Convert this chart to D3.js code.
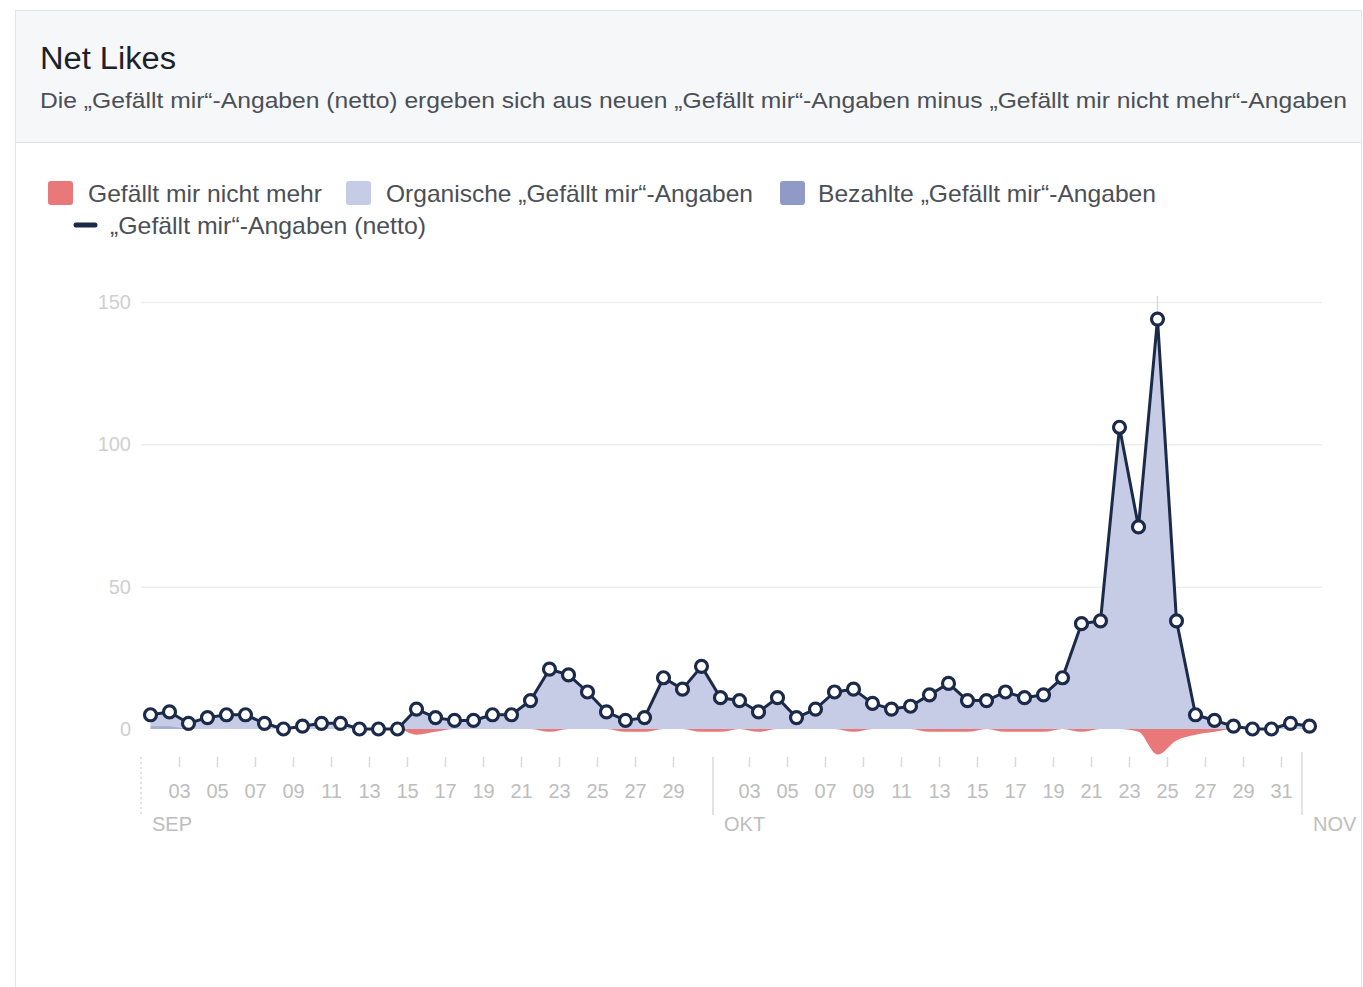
<!DOCTYPE html>
<html>
<head>
<meta charset="utf-8">
<script src="https://cdn.jsdelivr.net/npm/d3@7"></script>
<style>
  html, body { margin: 0; padding: 0; background: #ffffff; }
  svg { display: block; font-family: "Liberation Sans", Arial, Helvetica, sans-serif; }
</style>
</head>
<body>
<svg id="chart" width="1363" height="987"></svg>
<script>
// ---------------- DATA ----------------
const titleText = "Net Likes";
const subtitleText = "Die \u201EGefällt mir\u201C-Angaben (netto) ergeben sich aus neuen \u201EGefällt mir\u201C-Angaben minus \u201EGefällt mir nicht mehr\u201C-Angaben";
const seriesNames = [
  "Gefällt mir nicht mehr",
  "Organische \u201EGefällt mir\u201C-Angaben",
  "Bezahlte \u201EGefällt mir\u201C-Angaben",
  "\u201EGefällt mir\u201C-Angaben (netto)"
];
const firstDay = "2016-09-01";
const lastDay = "2016-11-01";
const monthLabels = ["SEP", "OKT", "NOV"];
const yTicks = [0, 50, 100, 150];

// Sep 1 .. Oct 31, Nov 1
const netLikes = [
  5, 6, 2, 4, 5, 5, 2, 0, 1, 2,
  2, 0, 0, 0, 7, 4, 3, 3, 5, 5,
  10, 21, 19, 13, 6, 3, 4, 18, 14, 22,
  11, 10, 6, 11, 4, 7, 13, 14, 9, 7,
  8, 12, 16, 10, 10, 13, 11, 12, 18, 37,
  38, 106, 71, 144, 38, 5, 3, 1, 0, 0,
  2, 1
];
const organicLikes = [
  5, 6, 2, 4, 5, 5, 2, 0, 1, 2,
  2, 0, 0, 0, 7, 4, 3, 3, 5, 5,
  10, 21, 19, 13, 6, 3, 4, 18, 14, 22,
  11, 10, 6, 11, 4, 7, 13, 14, 9, 7,
  8, 12, 16, 10, 10, 13, 11, 12, 18, 37,
  38, 106, 71, 144, 38, 5, 3, 1, 0, 0,
  2, 1
];
const paidLikes = [
  1, 1, 0, 0, 0, 0, 0, 0, 0, 0,
  0, 0, 0, 0, 0, 0, 0, 0, 0, 0,
  0, 0, 0, 0, 0, 0, 0, 0, 0, 0,
  0, 0, 0, 0, 0, 0, 0, 0, 0, 0,
  0, 0, 0, 0, 0, 0, 0, 0, 0, 0,
  0, 0, 0, 0, 0, 0, 0, 0, 0, 0,
  0, 0
];
const unlikes = [
  0, 0, 0, 0, 0, 0, 0, 0, 0, 0,
  0, 0, 0, 0, 2, 1, 0, 0, 0, 0,
  0, 1, 0, 0, 0, 1, 1, 0, 0, 1,
  1, 0, 1, 0, 0, 0, 0, 1, 0, 0,
  0, 1, 1, 1, 0, 1, 1, 1, 0, 1,
  0, 0, 1, 9, 4, 2, 1, 0, 0, 0,
  0, 0
];

// ---------------- COLORS ----------------
const C = {
  unlike: "#e8787a",
  organic: "#c6cce6",
  paid: "#8f9ac6",
  line: "#1c2a4a",
  text: "#4b4f56",
  title: "#1d2129",
  axis: "#bdbdbd",
  grid: "#eeeeee"
};

// ---------------- SETUP ----------------
const svg = d3.select("#chart");
const parse = d3.timeParse("%Y-%m-%d");
const d0 = parse(firstDay);
const days = d3.timeDay.range(d0, d3.timeDay.offset(parse(lastDay), 1));
const data = days.map((d, i) => ({
  date: d,
  mid: d3.timeHour.offset(d, 12),
  net: netLikes[i],
  organic: organicLikes[i],
  paid: paidLikes[i],
  unlike: unlikes[i]
}));

const x = d3.scaleTime()
  .domain([d0, d3.timeDay.offset(d0, 63)])
  .range([141, 1338]);
const y = d3.scaleLinear().domain([0, 150]).range([729, 302]);

// ---------------- CARD ----------------
svg.append("rect").attr("x", 15.5).attr("y", 10.5).attr("width", 1346).attr("height", 990)
  .attr("fill", "#ffffff").attr("stroke", "#e3e4e8");
svg.append("rect").attr("x", 16).attr("y", 11).attr("width", 1345).attr("height", 131)
  .attr("fill", "#f6f7f9");
svg.append("line").attr("x1", 16).attr("x2", 1361).attr("y1", 142.5).attr("y2", 142.5)
  .attr("stroke", "#dddfe2");

svg.append("text").attr("x", 40).attr("y", 69)
  .attr("font-size", 31).attr("fill", C.title)
  .attr("textLength", 136).attr("lengthAdjust", "spacingAndGlyphs")
  .text(titleText);
svg.append("text").attr("x", 40).attr("y", 108)
  .attr("font-size", 22).attr("fill", C.text)
  .attr("textLength", 1307).attr("lengthAdjust", "spacingAndGlyphs")
  .text(subtitleText);

// ---------------- LEGEND ----------------
const legendItems = [
  { name: seriesNames[0], color: C.unlike, sx: 48, tx: 88, tw: 234, y: 193 },
  { name: seriesNames[1], color: C.organic, sx: 346, tx: 386, tw: 367, y: 193 },
  { name: seriesNames[2], color: C.paid, sx: 780, tx: 818, tw: 338, y: 193 }
];
const lg = svg.append("g");
legendItems.forEach(it => {
  lg.append("rect").attr("x", it.sx).attr("y", it.y - 12).attr("width", 25).attr("height", 24)
    .attr("rx", 3).attr("fill", it.color);
  lg.append("text").attr("x", it.tx).attr("y", it.y + 9)
    .attr("font-size", 24).attr("fill", C.text)
    .attr("textLength", it.tw).attr("lengthAdjust", "spacingAndGlyphs")
    .text(it.name);
});
lg.append("line").attr("x1", 76).attr("x2", 95).attr("y1", 225).attr("y2", 225)
  .attr("stroke", C.line).attr("stroke-width", 5).attr("stroke-linecap", "round");
lg.append("text").attr("x", 110).attr("y", 234)
  .attr("font-size", 24).attr("fill", C.text)
  .attr("textLength", 316).attr("lengthAdjust", "spacingAndGlyphs")
  .text(seriesNames[3]);

// ---------------- GRID & Y AXIS ----------------
const gridEnd = x(d3.timeDay.offset(d0, 62)) + 3;
svg.append("g").selectAll("line").data(yTicks.filter(t => t > 0)).join("line")
  .attr("x1", 141).attr("x2", gridEnd)
  .attr("y1", d => y(d) + 0.5).attr("y2", d => y(d) + 0.5)
  .attr("stroke", C.grid).attr("stroke-width", 1.5);

svg.append("g").selectAll("text").data(yTicks).join("text")
  .attr("x", 131).attr("y", d => y(d))
  .attr("dy", "0.35em")
  .attr("text-anchor", "end")
  .attr("font-size", 20).attr("fill", "#cfcfcf")
  .text(d => d);

// ---------------- AREAS ----------------
const areaOrganic = d3.area()
  .x(d => x(d.mid)).y0(y(0)).y1(d => y(d.organic));
svg.append("path").datum(data).attr("d", areaOrganic).attr("fill", C.organic);

const areaPaid = d3.area()
  .x(d => x(d.mid)).y0(y(0)).y1(d => y(d.paid));
svg.append("path").datum(data).attr("d", areaPaid).attr("fill", C.paid).attr("opacity", 0.6);

const areaUnlike = d3.area().curve(d3.curveMonotoneX)
  .x(d => x(d.mid)).y0(y(0)).y1(d => y(-d.unlike));
svg.append("path").datum(data).attr("d", areaUnlike).attr("fill", C.unlike);

// hover indicator at peak
const peak = data[d3.maxIndex(data, d => d.net)];
svg.append("line")
  .attr("x1", x(peak.mid)).attr("x2", x(peak.mid))
  .attr("y1", y(150) - 6).attr("y2", y(peak.net))
  .attr("stroke", "#d6dbe8").attr("stroke-width", 1.5);

// ---------------- NET LINE ----------------
const line = d3.line().x(d => x(d.mid)).y(d => y(d.net));
svg.append("path").datum(data).attr("d", line)
  .attr("fill", "none").attr("stroke", C.line).attr("stroke-width", 3)
  .attr("stroke-linejoin", "round");
svg.append("g").selectAll("circle").data(data).join("circle")
  .attr("cx", d => x(d.mid)).attr("cy", d => y(d.net)).attr("r", 6)
  .attr("fill", "#ffffff").attr("stroke", C.line).attr("stroke-width", 3.2);

// ---------------- X AXIS ----------------
const tickDays = d3.timeDay.range(d0, d3.timeDay.offset(d0, 62))
  .filter(d => d.getDate() % 2 === 1 && d.getDate() > 1);
const xAxis = d3.axisBottom(x)
  .tickValues(tickDays)
  .tickSize(10)
  .tickPadding(17)
  .tickFormat(d3.timeFormat("%d"));
const gx = svg.append("g").attr("transform", "translate(0,757)").call(xAxis);
gx.select(".domain").remove();
gx.selectAll(".tick line").attr("stroke", "#dadada").attr("stroke-width", 1.5);
gx.selectAll(".tick text").attr("font-size", 20).attr("fill", C.axis)
  .attr("font-family", "'Liberation Sans', Arial, sans-serif");

// month boundaries
const monthStarts = d3.timeMonth.range(d0, d3.timeDay.offset(d0, 62));
const mg = svg.append("g");
monthStarts.forEach((m, i) => {
  const mx = x(m) + (i === 0 ? 0 : 2);
  mg.append("line")
    .attr("x1", mx).attr("x2", mx)
    .attr("y1", i === 2 ? 752 : 757).attr("y2", 815)
    .attr("stroke", "#d8d8d8").attr("stroke-width", 1.5)
    .attr("stroke-dasharray", i === 0 ? "2,3" : null);
  mg.append("text")
    .attr("x", mx + 11).attr("y", 831)
    .attr("font-size", 20).attr("fill", C.axis)
    .text(monthLabels[i]);
});
</script>
</body>
</html>
